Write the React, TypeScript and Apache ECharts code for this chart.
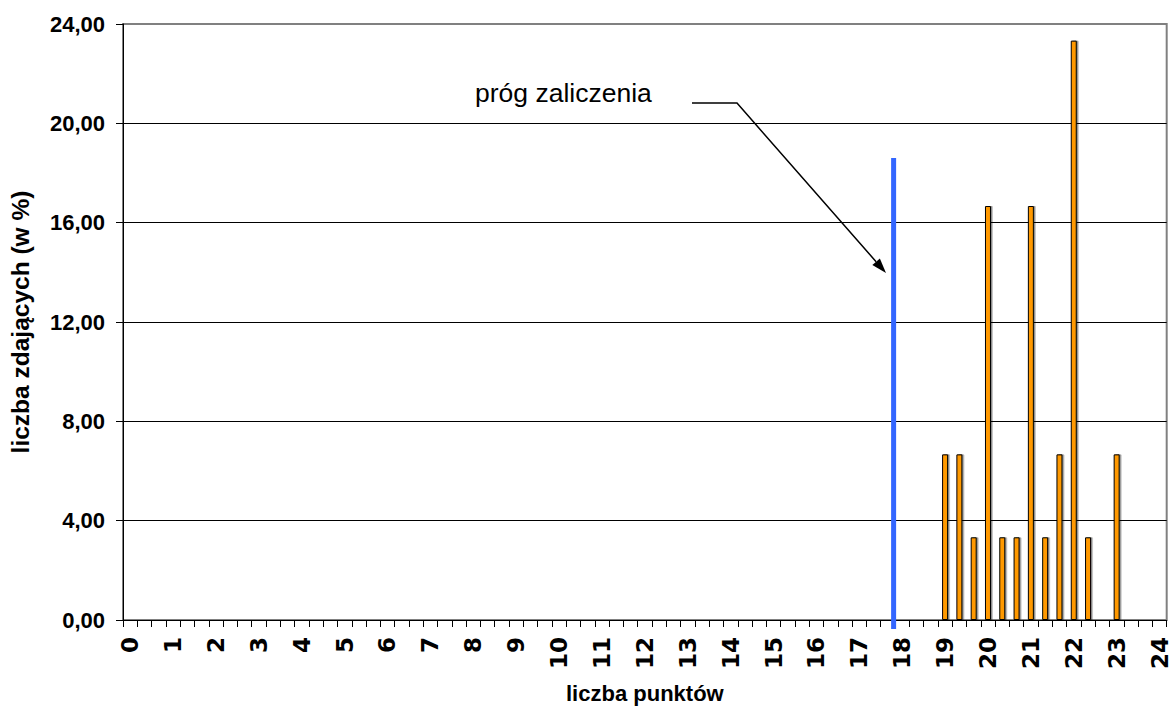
import React, { useEffect, useRef } from "react";
import * as echarts from "echarts";

// integer tick labels of the x axis (points), every integer is split into thirds
const pointLabels: number[] = [0, 1, 2, 3, 4, 5, 6, 7, 8, 9, 10, 11, 12, 13, 14, 15, 16, 17, 18, 19, 20, 21, 22, 23, 24];
const stepsPerPoint = 3;

// non-zero bars: position (in points) and share of students (%)
const barPoints: string[] = ["19", "19 1/3", "19 2/3", "20", "20 1/3", "20 2/3", "21", "21 1/3", "21 2/3", "22", "22 1/3", "23"];
const barPercents: number[] = [6.67, 6.67, 3.33, 16.67, 3.33, 3.33, 16.67, 3.33, 6.67, 23.33, 3.33, 6.67];

// y axis
const yTicks: number[] = [0, 4, 8, 12, 16, 20, 24];

// pass threshold (points) and the height of its marker (%)
const thresholdPoints = 17.8;
const thresholdTop = 18.6;

const FONT = "'Liberation Sans', Arial, sans-serif";
const XFONT = "'DejaVu Sans', Verdana, sans-serif";

export default function App() {
  const ref = useRef<HTMLDivElement>(null);

  useEffect(() => {
    if (!ref.current) return;
    const chart = echarts.init(ref.current, undefined, { renderer: "svg" });

    // build the category list: 0, 0 1/3, 0 2/3, 1, ... 24
    const categories: string[] = [];
    pointLabels.forEach((p, i) => {
      categories.push(String(p));
      if (i < pointLabels.length - 1) {
        categories.push(p + " 1/3");
        categories.push(p + " 2/3");
      }
    });
    const values = categories.map((c) => {
      const k = barPoints.indexOf(c);
      return k >= 0 ? barPercents[k] : "-";
    });

    const splitColors = yTicks.map((_, i) => (i === yTicks.length - 1 ? "transparent" : "#000"));

    chart.setOption({
      animation: false,
      grid: {
        left: 121,
        top: 24,
        width: 1050,
        height: 607,
        show: true,
        borderColor: "#808080",
        borderWidth: 2,
        backgroundColor: "transparent",
      },
      xAxis: {
        type: "category",
        data: categories,
        boundaryGap: true,
        name: "liczba punktów",
        nameLocation: "middle",
        nameGap: 62,
        nameTextStyle: { fontFamily: FONT, fontWeight: "bold", fontSize: 22, color: "#000" },
        axisLine: { lineStyle: { color: "#000", width: 1 } },
        axisTick: { show: true, interval: 0, length: 7, lineStyle: { color: "#000" } },
        axisLabel: {
          interval: stepsPerPoint - 1,
          rotate: 90,
          margin: 17,
          fontFamily: XFONT,
          fontWeight: "bold",
          fontSize: 23,
          color: "#000",
        },
        splitLine: { show: false },
      },
      yAxis: {
        type: "value",
        min: 0,
        max: 24,
        interval: 4,
        name: "liczba zdających (w %)",
        nameLocation: "middle",
        nameRotate: 90,
        nameGap: 90,
        nameTextStyle: { fontFamily: FONT, fontWeight: "bold", fontSize: 24.5, color: "#000" },
        axisLine: { show: true, lineStyle: { color: "#000", width: 1 } },
        axisTick: { show: true, length: 7, lineStyle: { color: "#000" } },
        axisLabel: {
          margin: 18,
          fontFamily: FONT,
          fontWeight: "bold",
          fontSize: 22,
          color: "#000",
          formatter: (v: number) => v.toFixed(2).replace(".", ","),
        },
        splitLine: { show: true, lineStyle: { color: splitColors, width: 1 } },
      },
      series: [
        {
          type: "bar",
          data: values,
          barWidth: 6,
          itemStyle: {
            color: "#FF9900",
            borderColor: "#000",
            borderWidth: 1,
            shadowColor: "rgba(0,0,0,0.45)",
            shadowOffsetX: 1.5,
            shadowOffsetY: 0,
            shadowBlur: 0,
          },
          z: 3,
        },
      ],
    });

    // threshold marker and annotation
    const idx = thresholdPoints * stepsPerPoint;
    const i0 = Math.floor(idx);
    const p0 = chart.convertToPixel({ gridIndex: 0 }, [i0, thresholdTop]) as number[];
    const p1 = chart.convertToPixel({ gridIndex: 0 }, [i0 + 1, 0]) as number[];
    const tx = p0[0] + (p1[0] - p0[0]) * (idx - i0);
    const topY = p0[1];
    const baseY = p1[1];

    const tip = [886, 273];
    const elbow = [737, 103];
    const dx = tip[0] - elbow[0];
    const dy = tip[1] - elbow[1];
    const len = Math.sqrt(dx * dx + dy * dy);
    const ux = dx / len;
    const uy = dy / len;
    const hl = 15;
    const hw = 5;
    const bx = tip[0] - ux * hl;
    const by = tip[1] - uy * hl;

    chart.setOption({
      graphic: [
        {
          type: "line",
          shape: { x1: tx, y1: topY, x2: tx, y2: baseY + 9 },
          style: { stroke: "#3366FF", lineWidth: 5 },
          z: 10,
        },
        {
          type: "text",
          x: 475,
          y: 93,
          style: {
            text: "próg zaliczenia",
            fontFamily: FONT,
            fontSize: 26.5,
            fill: "#000",
            verticalAlign: "middle",
          },
          z: 10,
        },
        {
          type: "polyline",
          shape: { points: [[692, 103], elbow, [bx, by]] },
          style: { stroke: "#000", lineWidth: 1.5, fill: "none" },
          z: 10,
        },
        {
          type: "polygon",
          shape: {
            points: [
              tip,
              [bx - uy * hw, by + ux * hw],
              [bx + uy * hw, by - ux * hw],
            ],
          },
          style: { fill: "#000" },
          z: 10,
        },
      ],
    });

    return () => chart.dispose();
  }, []);

  return (
    <div
      ref={ref}
      style={{ position: "absolute", left: 0, top: 0, width: 1171, height: 709, background: "#fff" }}
    />
  );
}
